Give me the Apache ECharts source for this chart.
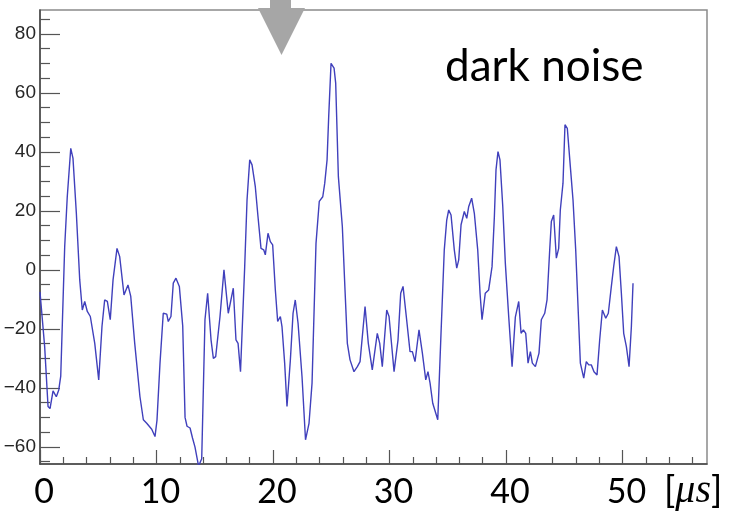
<!DOCTYPE html>
<html>
<head>
<meta charset="utf-8">
<script src="https://cdn.jsdelivr.net/npm/echarts@6/dist/echarts.min.js"></script>
<style>
  html, body { margin: 0; padding: 0; background: #ffffff; }
  #chart { width: 732px; height: 512px; }
</style>
</head>
<body>
<div id="chart"></div>
<script>
// waveform: time in us, amplitude in ADC units
const times = [
  0.0, 0.40, 0.69, 0.86, 1.12, 1.40, 1.61, 1.78, 2.12, 2.34, 2.64, 2.83, 3.12, 3.41, 3.63, 3.84,
  4.06, 4.32, 4.70, 5.04, 5.32, 5.55, 5.78, 6.03, 6.27, 6.61, 6.84, 7.21, 7.55, 7.79, 8.13, 8.58,
  8.87, 9.16, 9.30, 9.59, 9.87, 10.04, 10.30, 10.58, 10.88, 11.01, 11.24, 11.44, 11.67, 11.96, 12.25, 12.45,
  12.62, 12.88, 13.09, 13.30, 13.61, 13.88, 14.16, 14.39, 14.68, 14.88, 15.08, 15.45, 15.79, 16.16, 16.59, 16.82,
  17.00, 17.21, 17.57, 17.77, 18.00, 18.20, 18.48, 18.71, 18.97, 19.20, 19.34, 19.57, 19.77, 19.97, 20.20, 20.40,
  20.63, 20.77, 21.00, 21.20, 21.49, 21.72, 21.91, 22.15, 22.49, 22.79, 23.09, 23.35, 23.69, 23.97, 24.27, 24.44,
  24.64, 24.78, 24.98, 25.24, 25.38, 25.61, 25.95, 26.18, 26.38, 26.61, 26.95, 27.24, 27.47, 27.61, 27.90, 28.18,
  28.52, 28.95, 29.16, 29.38, 29.76, 29.96, 30.39, 30.73, 30.96, 31.16, 31.44, 31.76, 31.96, 32.19, 32.53, 32.82,
  33.11, 33.30, 33.48, 33.71, 34.14, 34.42, 34.70, 34.91, 35.08, 35.28, 35.56, 35.77, 35.94, 36.14, 36.42, 36.63,
  36.80, 37.05, 37.28, 37.57, 37.77, 37.94, 38.22, 38.51, 38.80, 39.00, 39.14, 39.31, 39.48, 39.72, 39.94, 40.23,
  40.52, 40.80, 41.09, 41.29, 41.49, 41.69, 41.89, 42.09, 42.26, 42.52, 42.83, 43.03, 43.32, 43.52, 43.75, 43.89,
  44.09, 44.32, 44.52, 44.66, 44.89, 45.06, 45.26, 45.52, 45.75, 45.98, 46.18, 46.38, 46.67, 46.89, 47.10, 47.32,
  47.55, 47.81, 48.04, 48.27, 48.56, 48.78, 49.04, 49.24, 49.47, 49.70, 49.90, 50.10, 50.33, 50.56, 50.76, 50.90
];
const amplitudes = [
  -7.5, -26, -46.3, -47, -41, -43, -40.7, -36, 7.9, 24.8, 41.2, 37.9, 19.2, -3.4, -13.6, -10.7,
  -14.1, -15.8, -24.9, -37.3, -19.2, -10.2, -10.7, -16.9, -3.4, 7.3, 4.5, -8.5, -5.1, -9, -24.9, -43,
  -50.8, -52, -51.7, -54, -56.5, -51, -31.6, -14.7, -15, -17.5, -15.8, -4.5, -2.8, -5.6, -19, -50,
  -53, -53.6, -57, -60, -66.5, -64, -16.9, -7.9, -23.7, -30, -29.4, -15.8, 0, -14.7, -6.2, -23.7,
  -24.9, -34.5, 1.1, 23.7, 37.3, 35.6, 28.2, 18.1, 7.3, 6.8, 5.1, 12.4, 9.6, 8.5, -6.8, -17.5,
  -15.8, -19.2, -31.6, -46.3, -30.5, -14.7, -10.2, -18.1, -36.2, -57.6, -52, -38.4, 9, 23.2, 24.8, 29.4,
  37.3, 52, 70, 68.4, 63.3, 31.6, 14.7, -6.8, -24.9, -30.5, -34.5, -32.8, -31.1, -31.7, -12.4, -24.9,
  -33.9, -21.5, -24.9, -32.8, -13.6, -15.8, -34.5, -23.7, -7.9, -5.6, -15.8, -27.7, -27.7, -31.1, -20.3, -28.2,
  -37.3, -34.5, -38.4, -45.2, -50.8, -21.5, 6.8, 16.9, 20.3, 18.6, 6.8, 0.6, 3.4, 15.3, 19.8, 17.5,
  21.5, 24.3, 19.2, 6.8, -7.9, -16.9, -7.9, -6.8, 1.1, 18.1, 33.9, 40.1, 37.3, 21.5, 2.3, -15.8,
  -32.8, -16, -10.7, -21.5, -20.3, -21.5, -31.6, -27.7, -31.6, -32.8, -28.2, -16.9, -14.7, -10.2, 6.8, 16.4,
  18.6, 4, 7.3, 20.3, 29.4, 49.2, 48, 35, 23.7, 6.8, -12.4, -31.6, -36.7, -31.1, -32.2, -32.2,
  -34.5, -35.6, -23.7, -13.6, -16.4, -14.7, -5.6, 1.1, 7.9, 4.5, -7.9, -21.5, -26, -32.8, -19.2, -4.5
];

const xMajorTicks = [0, 10, 20, 30, 40, 50];
const xMinorTicks = [2, 4, 6, 8, 12, 14, 16, 18, 22, 24, 26, 28, 32, 34, 36, 38, 42, 44, 46, 48, 52, 54, 56];
const yMajorTicks = [-60, -40, -20, 0, 20, 40, 60, 80];
const yMinorTicks = [-65, -55, -50, -45, -35, -30, -25, -15, -10, -5, 5, 10, 15, 25, 30, 35, 45, 50, 55, 65, 70, 75, 85];

const xMin = 0, xMax = 57.25;
const yMin = -65.8, yMax = 88.1;

const points = times.map((t, i) => [t, amplitudes[i]]);

const chart = echarts.init(document.getElementById('chart'), null, { renderer: 'canvas' });

chart.setOption({
    backgroundColor: '#ffffff',
    animation: false,
    title: {
        text: 'dark noise',
        left: 445,
        top: 45,
        padding: 0,
        textStyle: {
            fontFamily: 'Lato',
            fontSize: 44,
            fontWeight: 'normal',
            color: '#000000'
        }
    },
    grid: {
        left: 40,
        top: 10,
        right: 25,
        bottom: 48,
        show: true,
        borderColor: '#8a8a8a',
        borderWidth: 1.5,
        backgroundColor: 'transparent'
    },
    xAxis: [{
        type: 'value',
        min: xMin,
        max: xMax,
        position: 'bottom',
        axisLine: { show: true, onZero: false, lineStyle: { color: '#444444', width: 1.5 } },
        axisTick: { show: true, inside: true, length: 14, customValues: xMajorTicks, lineStyle: { color: '#555555', width: 1.2 } },
        axisLabel: {
            customValues: xMajorTicks,
            margin: 11,
            padding: [0, 0, 0, 8],
            fontFamily: 'Lato',
            fontSize: 34,
            color: '#000000'
        },
        splitLine: { show: false }
    }, {
        type: 'value',
        min: xMin,
        max: xMax,
        position: 'bottom',
        axisLine: { show: false, onZero: false },
        axisTick: { show: true, inside: true, length: 7, customValues: xMinorTicks, lineStyle: { color: '#555555', width: 1.2 } },
        axisLabel: { show: false },
        splitLine: { show: false }
    }],
    yAxis: [{
        type: 'value',
        min: yMin,
        max: yMax,
        position: 'left',
        axisLine: { show: true, onZero: false, lineStyle: { color: '#444444', width: 1.5 } },
        axisTick: { show: true, inside: true, length: 20, customValues: yMajorTicks, lineStyle: { color: '#555555', width: 1.2 } },
        axisLabel: {
            customValues: yMajorTicks,
            margin: 4,
            fontFamily: 'Liberation Sans',
            fontSize: 19,
            color: '#262626',
            formatter: (v) => String(v).replace('-', '\u2212')
        },
        splitLine: { show: false }
    }, {
        type: 'value',
        min: yMin,
        max: yMax,
        position: 'left',
        axisLine: { show: false, onZero: false },
        axisTick: { show: true, inside: true, length: 10, customValues: yMinorTicks, lineStyle: { color: '#555555', width: 1.2 } },
        axisLabel: { show: false },
        splitLine: { show: false }
    }],
    graphic: [{
        type: 'rect',
        shape: { x: 270, y: 0, width: 21, height: 12 },
        style: { fill: '#a6a6a6' },
        z: 100
    }, {
        type: 'polygon',
        shape: { points: [[258, 8], [305, 8], [281.5, 55]] },
        style: { fill: '#a6a6a6' },
        z: 100
    }, {
        type: 'text',
        left: 664,
        top: 471,
        style: {
            text: '[{m|\u03bcs}]',
            fontFamily: 'Lato',
            fontSize: 37,
            fill: '#000000',
            rich: {
                m: { fontFamily: 'Liberation Serif', fontStyle: 'italic', fontSize: 40, fill: '#000000' }
            }
        },
        z: 100
    }],
    series: [{
        type: 'line',
        xAxisIndex: 0,
        yAxisIndex: 0,
        data: points,
        showSymbol: false,
        clip: true,
        lineStyle: { color: '#4040bc', width: 1.4 }
    }]
});
</script>
</body>
</html>
